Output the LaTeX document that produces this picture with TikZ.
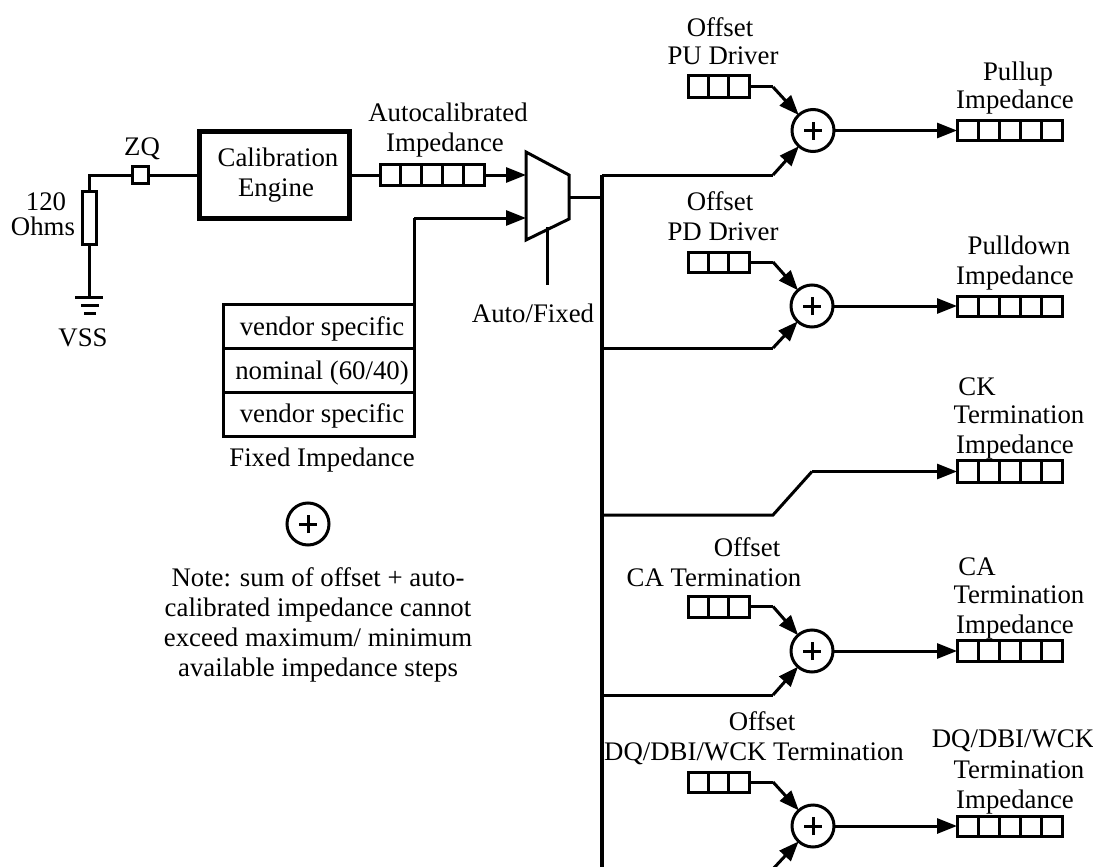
\documentclass[tikz,border=0pt]{standalone}
\usepackage{fontspec}
\setmainfont{Liberation Serif}
\usetikzlibrary{arrows.meta}
\newcommand{\regbox}[6]{% name, x1, y1, x2, y2, cells
  \node[regcell, minimum width={(#4-#2)*1pt}, minimum height={(#5-#3)*1pt}] (#1) at ({(#2+#4)/2},{(#3+#5)/2}) {};
  \foreach \ci in {1,...,\numexpr#6-1\relax}{
    \draw[wire] ({#2+(#4-#2)*\ci/#6},#3) -- ({#2+(#4-#2)*\ci/#6},#5);
  }
}
\newcommand{\lab}[4]{\node[lbl] (#1) at (#2,{#3+8.5}) {#4};}
\begin{document}
\begin{tikzpicture}[x=1pt,y=-1pt,
  wire/.style={line width=3pt,black},
  buswire/.style={line width=3.6pt,black},
  arrowwire/.style={wire,-{Triangle[length=20pt,width=15pt]}},
  regcell/.style={draw,line width=3pt,inner sep=0pt,outer sep=0pt,rectangle},
  sumnode/.style={draw,circle,line width=3pt,inner sep=0pt,minimum size=42pt,outer sep=0pt,
    path picture={\draw[line width=3pt] (path picture bounding box.center) ++(-9pt,0pt) -- ++(18pt,0pt)
      (path picture bounding box.center) ++(0pt,-9pt) -- ++(0pt,18pt);}},
  lbl/.style={anchor=base,inner sep=0pt,font=\fontsize{26.8}{29}\selectfont},
  ]
\useasboundingbox (0,0) rectangle (1093,867);
\clip (0,0) rectangle (1093,867);

% resistor and ground
\node[regcell,minimum width=14pt,minimum height=53pt,fill=white] (res) at (89,217.5) {};
\node[regcell,minimum width=16pt,minimum height=17pt] (zq) at (140.5,175) {};
\node[regcell,line width=5.5pt,minimum width=150pt,minimum height=87pt] (engine) at (274.5,175) {};
\coordinate (corner) at (89,175);
\draw[wire] (res.north) -- (corner) -- (zq.west);
\draw[wire] (zq.east) -- (engine.west);
\coordinate (gnd) at (89,297);
\draw[wire] (res.south) -- (gnd);
\draw[wire] (75,297) -- (103,297);
\draw[wire] (81,305) -- (99,305);
\draw[wire] (84,313) -- (96,313);
\lab{lvss}{83}{338}{VSS}
\lab{lzq}{142}{147}{ZQ}
\lab{l120}{46}{202}{120}
\lab{lohms}{43}{227}{Ohms}
\lab{lcal}{278}{158}{Calibration}
\lab{leng}{276}{188}{Engine}

% autocal register and mux
\regbox{auto}{380}{164.5}{484}{185.5}{5}
\draw[wire] (engine.east) -- (auto.west);
\lab{lauto}{448}{113}{Autocalibrated}
\lab{limp}{445}{143}{Impedance}
\draw[wire,line join=miter] (526,152) -- (569,175) -- (569,219) -- (526,240) -- cycle;
\coordinate (muxa) at (526,175);
\coordinate (muxb) at (526,218);
\coordinate (muxo) at (569,197);
\coordinate (muxc) at (547,227);
\coordinate (ctl) at (547,285);
\draw[arrowwire] (auto.east) -- (muxa);
\draw[wire] (muxc) -- (ctl);
\lab{lauf}{533}{314}{Auto/Fixed}

% fixed table
\node[regcell,minimum width=191pt,minimum height=44pt] (t1) at (318.5,326) {};
\node[regcell,minimum width=191pt,minimum height=44pt] (t2) at (318.5,370) {};
\node[regcell,minimum width=191pt,minimum height=44pt] (t3) at (318.5,414) {};
\coordinate (fixc) at (414,218);
\draw[wire] (t1.north east) -- (fixc);
\draw[arrowwire] (fixc) -- (muxb);
\lab{lt1}{322}{327}{vendor specific}
\lab{lt2}{322}{371}{nominal (60/40)}
\lab{lt3}{322}{414}{vendor specific}
\lab{lfix}{322}{458}{Fixed Impedance}

% note
\node[sumnode] (legend) at (308,524) {};
\lab{ln1}{318}{578}{Note: sum of offset + auto-}
\lab{ln2}{318}{608}{calibrated impedance cannot}
\lab{ln3}{318}{638}{exceed maximum/ minimum}
\lab{ln4}{318}{668}{available impedance steps}

% bus
\coordinate (bustop) at (602,175);
\coordinate (busend) at (602,867);
\coordinate (busin) at (602,197);
\draw[buswire] (bustop) -- (busend);
\draw[wire] (muxo) -- (busin);

% branch 1
\regbox{o1}{688}{76}{749}{98}{3}
\node[sumnode] (s1) at (813,130.5) {};
\regbox{r1}{957}{120.5}{1062}{140.5}{5}
\coordinate (o1k) at (773,87);
\coordinate (b1k) at (773,175);
\draw[wire] (o1.east) -- (o1k);
\draw[arrowwire] (o1k) -- (s1);
\draw[wire] (bustop) -- (b1k);
\draw[arrowwire] (b1k) -- (s1);
\draw[arrowwire] (s1.east) -- (r1.west);
\lab{a1}{720}{28}{Offset}
\lab{a2}{723}{56}{PU Driver}
\lab{a3}{1018}{72}{Pullup}
\lab{a4}{1015}{100}{Impedance}

% branch 2
\regbox{o2}{688}{252}{749}{272}{3}
\node[sumnode] (s2) at (812,306) {};
\regbox{r2}{957}{296}{1062}{316}{5}
\coordinate (o2k) at (773,262);
\coordinate (b2) at (602,348);
\coordinate (b2k) at (773,348);
\draw[wire] (o2.east) -- (o2k);
\draw[arrowwire] (o2k) -- (s2);
\draw[wire] (b2) -- (b2k);
\draw[arrowwire] (b2k) -- (s2);
\draw[arrowwire] (s2.east) -- (r2.west);
\lab{c1}{720}{202}{Offset}
\lab{c2}{723}{232}{PD Driver}
\lab{c3}{1019}{246}{Pulldown}
\lab{c4}{1015}{276}{Impedance}

% branch 3
\regbox{r3}{957}{460.5}{1062}{482.5}{5}
\coordinate (b3) at (602,515);
\coordinate (b3k) at (773,515);
\coordinate (b3m) at (812,471.5);
\draw[wire] (b3) -- (b3k) -- (b3m);
\draw[arrowwire] (b3m) -- (r3.west);
\lab{d1}{977}{387}{CK}
\lab{d2}{1019}{415}{Termination}
\lab{d3}{1015}{445}{Impedance}

% branch 4
\regbox{o4}{688}{596}{749}{617}{3}
\node[sumnode] (s4) at (812,651) {};
\regbox{r4}{957}{640.5}{1062}{661.5}{5}
\coordinate (o4k) at (773,606.5);
\coordinate (b4) at (602,695);
\coordinate (b4k) at (773,695);
\draw[wire] (o4.east) -- (o4k);
\draw[arrowwire] (o4k) -- (s4);
\draw[wire] (b4) -- (b4k);
\draw[arrowwire] (b4k) -- (s4);
\draw[arrowwire] (s4.east) -- (r4.west);
\lab{e1}{747}{548}{Offset}
\lab{e2}{714}{578}{CA Termination}
\lab{e3}{977}{567}{CA}
\lab{e4}{1019}{595}{Termination}
\lab{e5}{1015}{625}{Impedance}

% branch 5
\regbox{o5}{688}{772}{749}{792}{3}
\node[sumnode] (s5) at (813,826) {};
\regbox{r5}{957}{816}{1062}{836}{5}
\coordinate (o5k) at (773,782);
\coordinate (b5k) at (772,870);
\draw[wire] (o5.east) -- (o5k);
\draw[arrowwire] (o5k) -- (s5);
\draw[arrowwire] (b5k) -- (s5);
\draw[arrowwire] (s5.east) -- (r5.west);
\lab{f1}{762}{722}{Offset}
\lab{f2}{754}{752}{DQ/DBI/WCK Termination}
\lab{f3}{1013}{739}{DQ/DBI/WCK}
\lab{f4}{1019}{770}{Termination}
\lab{f5}{1015}{800}{Impedance}
\end{tikzpicture}
\end{document}
